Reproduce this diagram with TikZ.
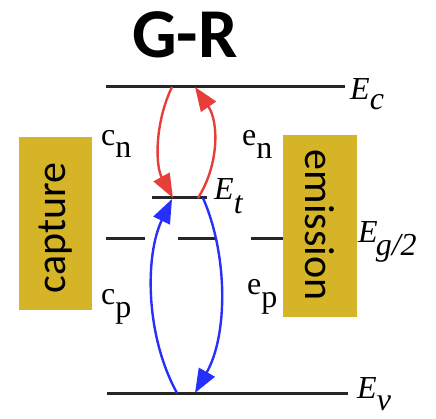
\documentclass[tikz,border=0pt]{standalone}
\usepackage{fontspec}
\setmainfont{Liberation Serif}
\newfontfamily\boxfont{Carlito}
\usetikzlibrary{arrows.meta}
\definecolor{boxgold}{RGB}{214,180,40}
\definecolor{arrred}{RGB}{232,62,58}
\definecolor{arrblue}{RGB}{38,48,250}
\begin{document}
\begin{tikzpicture}[x=1pt,y=-1pt,
  level/.style={line width=3pt, draw=black!85},
  redarr/.style={draw=arrred, line width=2.4pt, -{Triangle[length=24pt,width=18pt,fill=arrred]}},
  bluearr/.style={draw=arrblue, line width=2.4pt, -{Triangle[length=24pt,width=18pt,fill=arrblue]}},
  procbox/.style={fill=boxgold, draw=none},
  boxtext/.style={font=\boxfont\fontsize{42}{42}\selectfont, inner sep=0pt},
  lab/.style={font=\fontsize{32}{32}\selectfont, inner sep=0pt, anchor=base west},
  titletext/.style={font=\boxfont\bfseries\fontsize{70}{70}\selectfont, inner sep=0pt, anchor=base}
]
\useasboundingbox (0,0) rectangle (436,419);

% title
\node[titletext] (title) at (185,58) {G-R};

% boxes
\fill[procbox] (19,137) rectangle (92,310);
\node[boxtext, rotate=90] (capture) at (56,228) {capture};
\fill[procbox] (283,135) rectangle (357,317);
\node[boxtext, rotate=-90] (emission) at (320,225) {emission};

% levels
\coordinate (EcL) at (106,87);  \coordinate (EcR) at (345,87);
\coordinate (EtL) at (152,198); \coordinate (EtR) at (207,198);
\coordinate (EvL) at (107,393); \coordinate (EvR) at (348,393);
\draw[level] (EcL) -- (EcR);
\draw[level] (EtL) -- (EtR);
\draw[level] (EvL) -- (EvR);
\coordinate (Eg1a) at (106,239); \coordinate (Eg1b) at (145,239);
\coordinate (Eg2a) at (178,239); \coordinate (Eg2b) at (216,239);
\coordinate (Eg3a) at (251,239); \coordinate (Eg3b) at (283,239);
\draw[level] (Eg1a) -- (Eg1b);
\draw[level] (Eg2a) -- (Eg2b);
\draw[level] (Eg3a) -- (Eg3b);

% transition end points
\coordinate (cnA) at (172,87);  \coordinate (cnB) at (173,198);
\coordinate (enA) at (198,198); \coordinate (enB) at (195,87);
\coordinate (cpA) at (177,393); \coordinate (cpB) at (172,199);
\coordinate (epA) at (203,198); \coordinate (epB) at (195,393);

\draw[redarr]  (cnA) .. controls (155,122) and (155,165) .. (cnB);
\draw[redarr]  (enA) .. controls (219,165) and (219,122) .. (enB);
\draw[bluearr] (cpA) .. controls (145,335) and (145,255) .. (cpB);
\draw[bluearr] (epA) .. controls (228,255) and (228,335) .. (epB);

% labels
\node[lab] (cn) at (101,146) {c\raisebox{-12pt}{n}};
\node[lab] (en) at (242,146) {e\raisebox{-13pt}{n}};
\node[lab] (cp) at (101,305) {c\raisebox{-13pt}{p}};
\node[lab] (ep) at (247,295) {e\raisebox{-13pt}{p}};
\node[lab] (Ec) at (350,100) {\textit{E}\raisebox{-10pt}{\textit{c}}};
\node[lab] (Et) at (214,200) {\textit{E}\raisebox{-14pt}{\textit{t}}};
\node[lab] (Eg) at (358,243) {\textit{E}\kern-2pt\raisebox{-13pt}{\textit{g/2}}};
\node[lab] (Ev) at (357,398) {\textit{E}\raisebox{-12pt}{\textit{v}}};
\end{tikzpicture}
\end{document}
